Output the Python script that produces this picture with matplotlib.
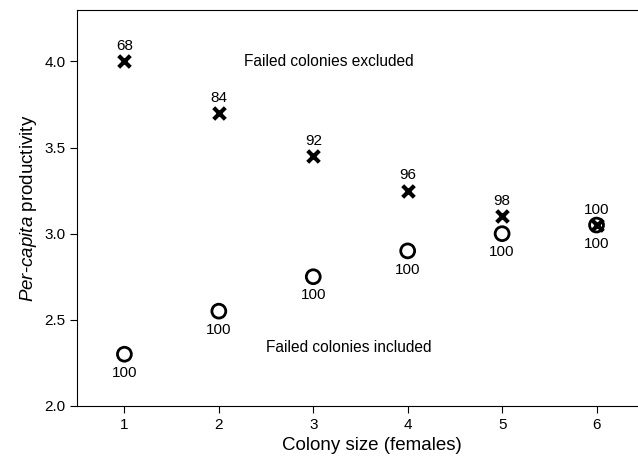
import matplotlib.pyplot as plt
import numpy as np

plt.rcParams['font.family'] = ['Liberation Sans', 'DejaVu Sans']
plt.rcParams['mathtext.fontset'] = 'custom'
plt.rcParams['mathtext.rm'] = 'Liberation Sans'
plt.rcParams['mathtext.it'] = 'Liberation Sans:italic'

colony_size = [1, 2, 3, 4, 5, 6]
excluded = [4.0, 3.7, 3.45, 3.25, 3.1, 3.05]
included = [2.3, 2.55, 2.75, 2.9, 3.0, 3.05]
excluded_n = [68, 84, 92, 96, 98, 100]
included_n = [100, 100, 100, 100, 100, 100]

fig = plt.figure(figsize=(6.38, 4.66), dpi=100)
# the original figure is cropped on the right, so the axes run past the edge
ax = fig.add_axes([0.121, 0.129, 0.925, 0.85])

ax.scatter(colony_size, included, s=100, facecolors='none', edgecolors='black', linewidths=2, zorder=3)
ax.scatter(colony_size, excluded, s=70, marker='x', c='black', linewidths=3, zorder=4)

for x, y, n in zip(colony_size, excluded, excluded_n):
    ax.annotate(str(n), (x, y), xytext=(0, 11), textcoords='offset points', ha='center', va='center', fontsize=11)
for x, y, n in zip(colony_size, included, included_n):
    ax.annotate(str(n), (x, y), xytext=(0, -13.5), textcoords='offset points', ha='center', va='center', fontsize=11)

ax.text(2.27, 4.0, 'Failed colonies excluded', ha='left', va='center', fontsize=11.2)
ax.text(2.5, 2.34, 'Failed colonies included', ha='left', va='center', fontsize=11.2)

ax.set_xlim(0.5, 6.75)
ax.set_ylim(2.0, 4.3)
ax.set_xticks(colony_size)
ax.set_yticks(np.arange(2.0, 4.01, 0.5))
ax.yaxis.set_major_formatter(plt.FormatStrFormatter('%.1f'))
ax.tick_params(direction='out', length=5, labelsize=11)

ax.set_xlabel('Colony size (females)', fontsize=13.5)
ax.set_ylabel('$\\mathit{Per}$-$\\mathit{capita}$ productivity', fontsize=13.5)

fig.savefig('out.png', dpi=100)
